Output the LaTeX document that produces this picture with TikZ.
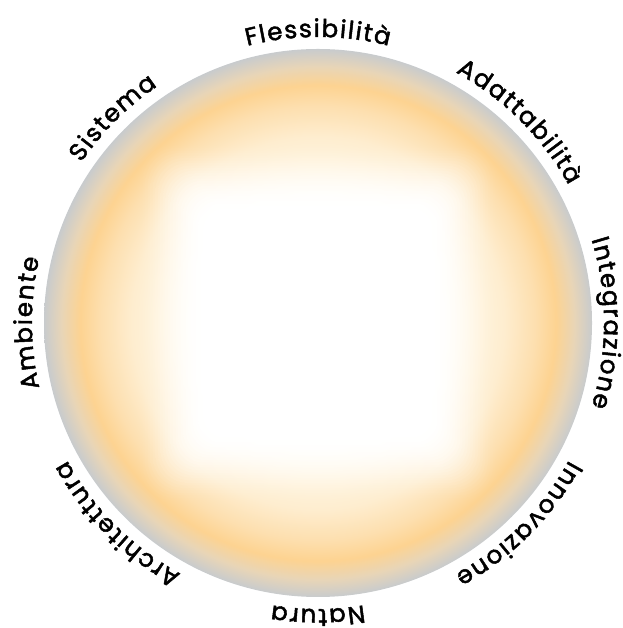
\documentclass[tikz,border=0pt]{standalone}
\usepackage{fontspec}
\newfontfamily\wfont[FakeBold=2]{Poppins}
\usetikzlibrary{decorations.text,calc}
\definecolor{edgegray}{RGB}{200,203,205}
\definecolor{orng}{RGB}{253,211,145}
\definecolor{orngl}{RGB}{253,223,175}
\definecolor{creamA}{RGB}{254,237,207}
\definecolor{creamB}{RGB}{255,247,230}
\definecolor{mixg}{RGB}{232,213,183}
\definecolor{pw}{RGB}{255,255,255}
\pgfdeclareradialshading{ringshade}{\pgfpoint{0bp}{0bp}}{color(0bp)=(pw); color(8bp)=(pw); color(13bp)=(creamB); color(17bp)=(creamA); color(19.8bp)=(orngl); color(21.7bp)=(orng); color(23.4bp)=(mixg); color(25bp)=(edgegray); color(50bp)=(edgegray)}
\tikzset{charfont/.style={font=\wfont\fontsize{24.5}{24.5}\selectfont},
  wordpath/.style={decorate, decoration={text effects along path, text={#1}, text align=center, text effects/.cd, text along path, character widths={inner xsep=0.8pt, charfont}, characters={inner xsep=0.8pt, charfont, text=black}}}}
\newcommand\wordarc[2]{\path[charfont, wordpath={#2}] ($(c)+(#1+60:286)$) arc[start angle=#1+60, end angle=#1-60, radius=286];}
\begin{document}
\begin{tikzpicture}[x=1pt,y=1pt]
\useasboundingbox (0,0) rectangle (622,628);
\coordinate (c) at (318,305);
\shade[shading=ringshade] (c) circle[radius=274];
\foreach \k in {0,...,27}{
  \pgfmathsetmacro\h{180-68*\k/27}
  \pgfmathsetmacro\rr{0.18*\h}
  \pgfmathsetmacro\s{(\k+0.5)/28}
  \pgfmathsetmacro\p{100-100*\s*\s*(3-2*\s)}
  \edef\tmpdecl{\noexpand\pgfdeclareradialshading{ring\k}{\noexpand\pgfpoint{0bp}{0bp}}{color(0bp)=(pw); color(8bp)=(pw); color(13bp)=(creamB!\p!pw); color(17bp)=(creamA!\p!pw); color(19.8bp)=(orngl!\p!pw); color(21.7bp)=(orng!\p!pw); color(23.4bp)=(mixg!\p!pw); color(25bp)=(edgegray!\p!pw); color(50bp)=(edgegray!\p!pw)}}
  \tmpdecl
  \begin{scope}
    \clip (c) circle[radius=274];
    \clip[rounded corners=\rr pt] ($(c)+(-\h,-\h)$) rectangle ($(c)+(\h,\h)$);
    \shade[shading=ring\k] (c) circle[radius=274];
  \end{scope}
}
\fill[pw, rounded corners=20.2pt] ($(c)+(-112,-112)$) rectangle ($(c)+(112,112)$);
\wordarc{90}{Flessibilità}
\wordarc{45}{Adattabilità}
\wordarc{0}{Integrazione}
\wordarc{-45}{Innovazione}
\wordarc{-90}{Natura}
\wordarc{-135}{Architettura}
\wordarc{180}{Ambiente}
\wordarc{135}{Sistema}
\end{tikzpicture}
\end{document}
